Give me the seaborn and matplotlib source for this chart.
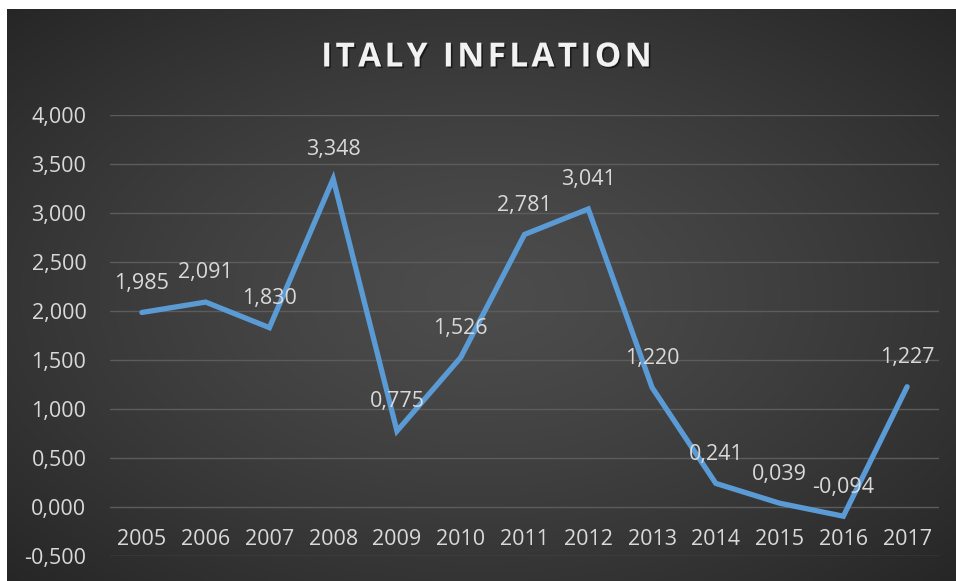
import numpy as np
import pandas as pd
import matplotlib
matplotlib.use("Agg")
import matplotlib.pyplot as plt
import matplotlib.patheffects as pe
import seaborn as sns

years = ["2005", "2006", "2007", "2008", "2009", "2010", "2011",
         "2012", "2013", "2014", "2015", "2016", "2017"]
inflation = [1.985, 2.091, 1.830, 3.348, 0.775, 1.526, 2.781,
             3.041, 1.220, 0.241, 0.039, -0.094, 1.227]
y_ticks = [-0.5, 0.0, 0.5, 1.0, 1.5, 2.0, 2.5, 3.0, 3.5, 4.0]
title = "ITALY INFLATION"

sns.set_style("dark")
plt.rcParams["font.family"] = ["Open Sans", "DejaVu Sans"]

W, H = 956, 581
fig = plt.figure(figsize=(W / 100, H / 100), dpi=100)
fig.patch.set_facecolor("white")

# dark panel with a soft radial glow
bg = fig.add_axes([7 / W, 0, (W - 7) / W, (H - 9) / H])
bg.set_axis_off()
gx, gy = np.meshgrid(np.linspace(-1, 1, 400), np.linspace(-1, 1, 260))
r = np.sqrt(gx ** 2 + gy ** 2) / np.sqrt(2)
shade = 0.30 - 0.15 * np.clip(r, 0, 1) ** 1.3
bg.imshow(np.dstack([shade] * 3), aspect="auto", extent=[0, 1, 0, 1],
          interpolation="bilinear")
bg.set_xlim(0, 1)
bg.set_ylim(0, 1)

ax = fig.add_axes([110 / W, 25 / H, 829 / W, 441 / H])
ax.set_facecolor("none")

df = pd.DataFrame({"year": years, "value": inflation})
sns.lineplot(data=df, x="year", y="value", ax=ax, color="#5B9BD5",
             linewidth=3.8, solid_joinstyle="miter", clip_on=False)

ax.set_xlim(-0.5, len(years) - 0.5)
ax.set_ylim(-0.5, 4.0)
ax.set_yticks(y_ticks)
ax.set_yticklabels([f"{v:.3f}".replace(".", ",") for v in y_ticks])
ax.grid(axis="y", color="#5c5c5c", linewidth=1.0)
ax.grid(axis="x", visible=False)
for s in ax.spines.values():
    s.set_visible(False)
ax.spines["bottom"].set_position(("data", 0))
ax.tick_params(axis="both", length=0, labelcolor="#d9d9d9", labelsize=15.5)
ax.tick_params(axis="y", pad=17)
ax.tick_params(axis="x", pad=16)
ax.set_xlabel("")
ax.set_ylabel("")

for i, v in enumerate(inflation):
    ax.annotate(f"{v:.3f}".replace(".", ","), (i, v), xytext=(0, 21),
                textcoords="offset points", ha="center", va="center",
                color="#d9d9d9", fontsize=15.5)

fig.text(487 / W, 1 - 58 / H, "\u200a".join(title),
         ha="center", va="center", color="#f2f2f2", fontsize=24,
         fontweight="bold",
         path_effects=[pe.withSimplePatchShadow(offset=(1.2, -1.2),
                                                shadow_rgbFace="black",
                                                alpha=0.5)])

fig.savefig("out.png", dpi=100)
